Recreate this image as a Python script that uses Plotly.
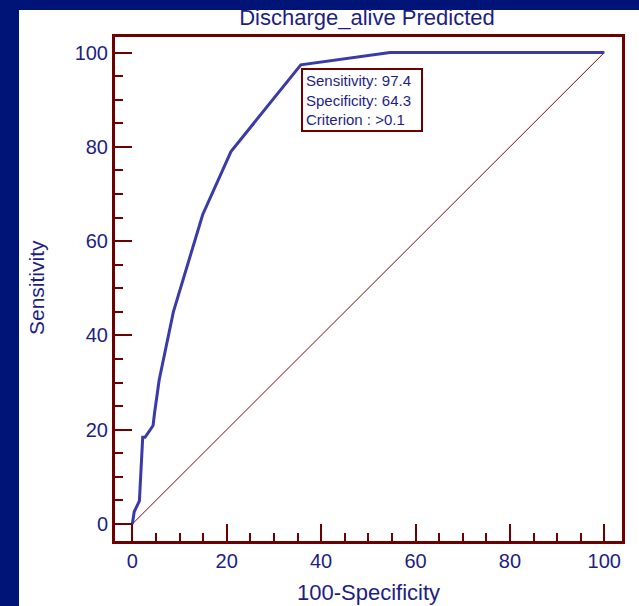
import plotly.graph_objects as go

# ROC curve (100-Specificity vs Sensitivity)
fpr = [0, 0.4, 1.5, 2.2, 2.7, 4.4, 4.7, 5.7, 8.7, 14.9, 20.9, 35.7, 54.6, 100]
tpr = [0, 2.6, 4.9, 18.4, 18.4, 20.9, 23.5, 30.6, 45.0, 65.6, 79.0, 97.4, 100, 100]
diag_x = [0, 100]
diag_y = [0, 100]
tick_vals = [0, 20, 40, 60, 80, 100]
tick_text = ["0", "20", "40", "60", "80", "100"]
best_sens = 97.4
best_spec = 64.3
criterion = ">0.1"

NAVY = "#001478"
FRAME = "#6E0000"
TXT = "#1E1E82"
CURVE = "#3A3AA8"

fig = go.Figure()
fig.add_trace(go.Scatter(x=diag_x, y=diag_y, mode="lines",
                         line=dict(color="#8B0000", width=1), hoverinfo="skip"))
fig.add_trace(go.Scatter(x=fpr, y=tpr, mode="lines",
                         line=dict(color=CURVE, width=3)))

W, H = 639, 606
L, R, T, B = 115, 622, 37, 541
pw, ph = R - L, B - T

axis_common = dict(
    showgrid=False, zeroline=False,
    showline=True, linecolor=FRAME, linewidth=3, mirror=True,
    ticks="inside", ticklen=17, tickwidth=2, tickcolor=FRAME,
    tickvals=tick_vals, ticktext=tick_text,
    tickfont=dict(family="Liberation Sans, Arial", size=20, color=TXT),
    minor=dict(dtick=5, tick0=0, ticks="inside", ticklen=8, tickwidth=2, tickcolor=FRAME),
)
fig.update_xaxes(range=[-3.67, 103.75], **axis_common)
fig.update_yaxes(range=[-3.6, 103.3], **axis_common)

# white panel over navy background
fig.add_shape(type="rect", xref="paper", yref="paper",
              x0=(19 - L) / pw, x1=(W + 20 - L) / pw,
              y0=(B - (H + 20)) / ph, y1=(B - 10) / ph,
              fillcolor="white", line=dict(width=0), layer="below")

fig.add_annotation(
    xref="x", yref="y", x=100 - best_spec, y=(524 - 68) / 4.713,
    xanchor="left", yanchor="top", showarrow=False, align="left",
    text=f"Sensitivity: {best_sens}<br>Specificity: {best_spec}<br>Criterion : {criterion}",
    font=dict(family="Liberation Sans, Arial", size=15, color=TXT),
    bordercolor=FRAME, borderwidth=2, borderpad=3, bgcolor="white",
    width=112, height=54,
)

fig.add_annotation(xref="paper", yref="paper", x=(368 - L) / pw, y=(B - 592) / ph,
                   xanchor="center", yanchor="middle", showarrow=False,
                   text="100-Specificity",
                   font=dict(family="Liberation Sans, Arial", size=22, color=TXT))
fig.add_annotation(xref="paper", yref="paper", x=(36 - L) / pw, y=(B - 288) / ph,
                   xanchor="center", yanchor="middle", showarrow=False, textangle=-90,
                   text="Sensitivity",
                   font=dict(family="Liberation Sans, Arial", size=21, color=TXT))

fig.update_layout(
    width=W, height=H,
    margin=dict(l=L, r=W - R, t=T, b=H - B),
    paper_bgcolor=NAVY, plot_bgcolor="white",
    showlegend=False,
    title=dict(text="Discharge_alive Predicted", x=367 / W, xanchor="center",
               y=1 - 17 / H, yanchor="middle",
               font=dict(family="Liberation Sans, Arial", size=22, color=TXT)),
)

fig.write_html("out.html", config={"displayModeBar": False},
               post_script="document.body.style.margin='0';document.body.style.overflow='hidden';")
